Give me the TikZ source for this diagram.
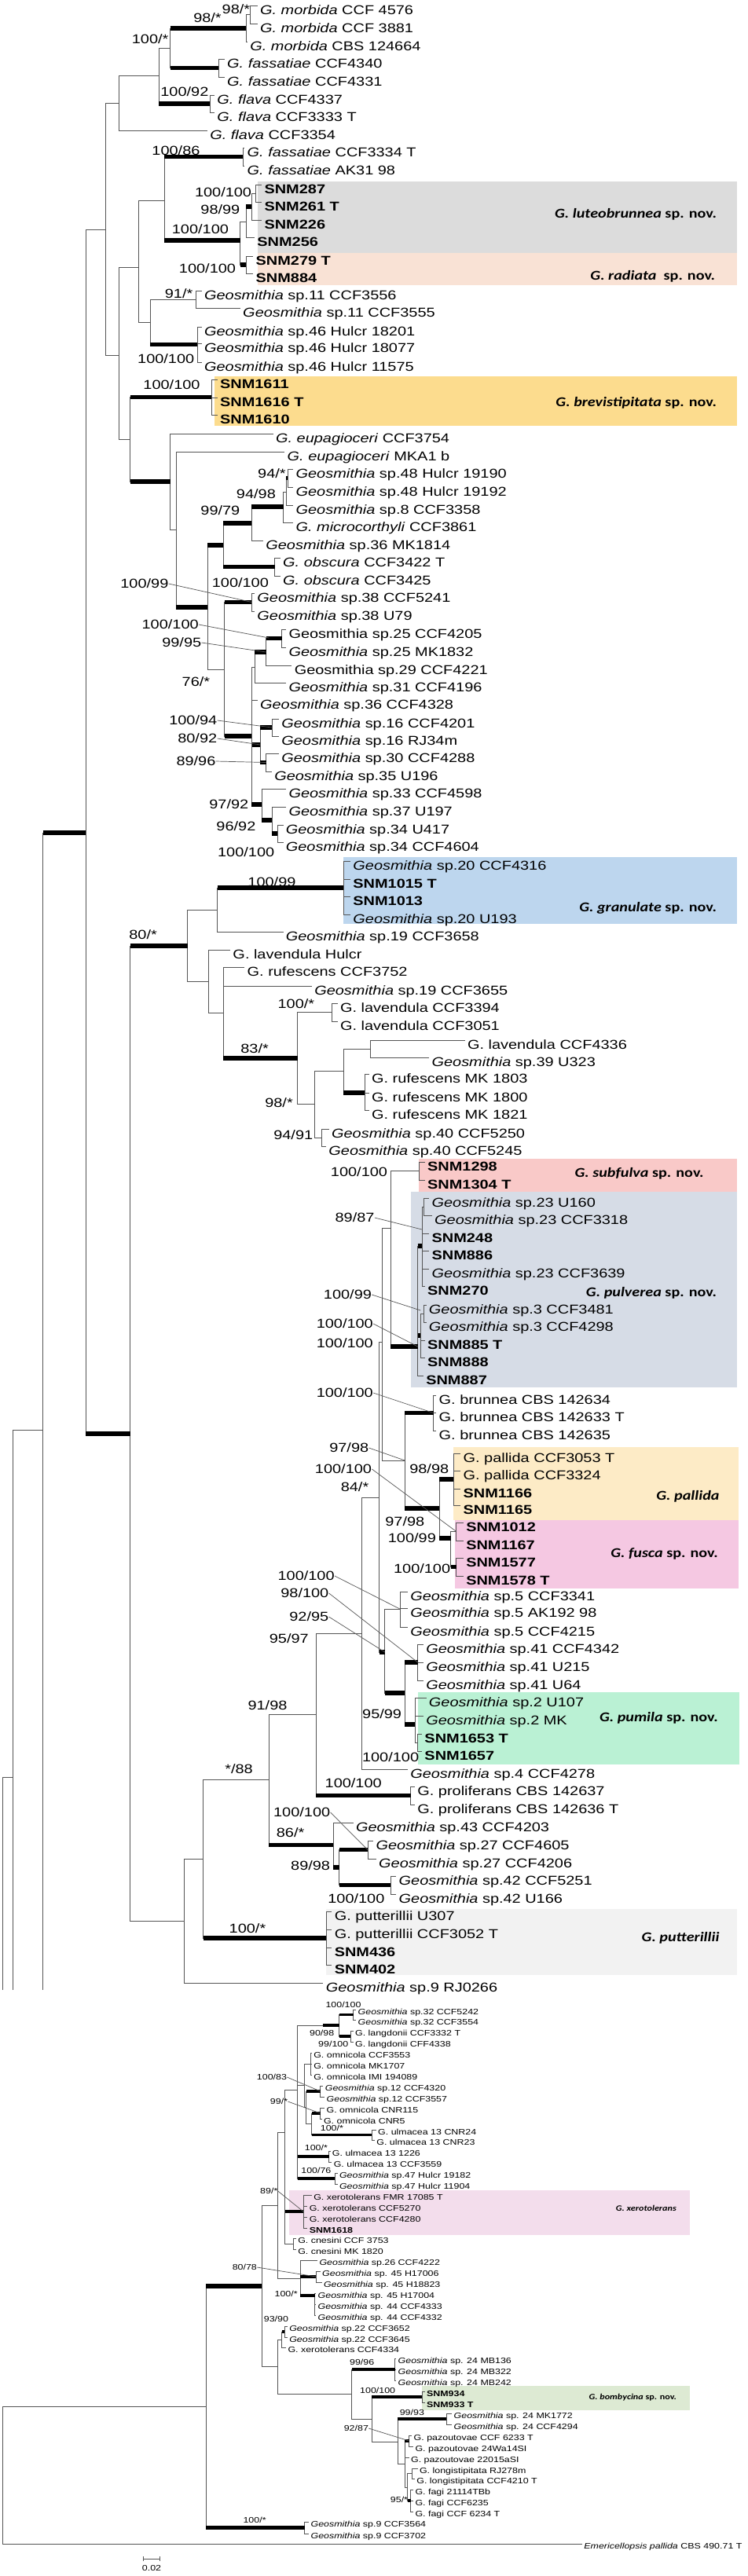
\documentclass[tikz,border=0pt]{standalone}
\usepackage{fontspec}
\setmainfont{Liberation Sans}[FakeStretch=1.22]
\newfontfamily\cladefont{Carlito}[FakeStretch=1.17]
\usetikzlibrary{calc}

\definecolor{luteo}{HTML}{DCDCDC}
\definecolor{radiat}{HTML}{F9E2D5}
\definecolor{brevi}{HTML}{FCDC8E}
\definecolor{granul}{HTML}{BDD6EE}
\definecolor{subful}{HTML}{F9C9C8}
\definecolor{pulver}{HTML}{D6DCE6}
\definecolor{pallid}{HTML}{FDEBC6}
\definecolor{fusc}{HTML}{F5C8E2}
\definecolor{pumil}{HTML}{BAF1D4}
\definecolor{putter}{HTML}{F2F2F2}
\definecolor{xerot}{HTML}{F3DDEC}
\definecolor{bomby}{HTML}{DDEAD3}
\definecolor{branch}{HTML}{555555}

\tikzset{
  br/.style={draw=branch, line width=0.5pt},
  bar/.style={line width=0.11cm, line cap=butt},
  bars/.style={line width=0.075cm, line cap=butt},
  tx/.style={anchor=base west, inner sep=0pt, xshift=0.06cm, yshift=-0.225cm, font=\fontsize{9.3}{10}\selectfont},
  txs/.style={anchor=base west, inner sep=0pt, xshift=0.04cm, yshift=-0.135cm, font=\fontsize{5.8}{6.5}\selectfont},
  bs/.style={inner sep=0pt, font=\fontsize{9.3}{10}\selectfont},
  bss/.style={inner sep=0pt, font=\fontsize{5.8}{6.5}\selectfont},
  ld/.style={draw=branch, line width=0.4pt},
  clade/.style={anchor=east, inner sep=0pt, font=\cladefont\fontsize{9.8}{11}\selectfont\bfseries},
  cladesm/.style={anchor=east, inner sep=0pt, font=\cladefont\fontsize{5.9}{7}\selectfont\bfseries},
}

\newcommand\geo{\textit{Geosmithia}}
\newcommand\lf[4]{\coordinate (#1) at (#2,#3); \node[tx] (#1t) at (#1) {#4};}
\newcommand\lfs[4]{\coordinate (#1) at (#2,#3); \node[txs] (#1t) at (#1) {#4};}
\newcommand\br[2]{\draw[br] (#1) |- (#2);}
\newcommand\tb[2]{\draw[br] (#1) |- (#2); \draw[bar] (#1 |- #2) -- (#2);}
\newcommand\tbs[2]{\draw[br] (#1) |- (#2); \draw[bars] (#1 |- #2) -- (#2);}

\begin{document}
\begin{tikzpicture}[x=0.03643cm, y=-0.02cm]
  \fill[white] (0,0) rectangle (522.6,3279);
  \useasboundingbox (0,0) rectangle (522.6,3279);

  % clade boxes
  \fill[luteo] (180,231) rectangle (515,322);
  \fill[radiat] (180,322) rectangle (515,363);
  \fill[brevi] (150,479) rectangle (515,542);
  \fill[granul] (240,1091) rectangle (515,1176);
  \fill[subful] (293,1475) rectangle (515,1517);
  \fill[pulver] (287,1517) rectangle (515,1766);
  \fill[pallid] (317,1842) rectangle (516,1935);
  \fill[fusc] (318,1935) rectangle (516,2022);
  \fill[pumil] (292,2154) rectangle (517,2246);
  \fill[putter] (228,2430) rectangle (515,2514);
  \fill[xerot] (202,2788) rectangle (482,2845);
  \fill[bomby] (295,3037) rectangle (482,3068);

  \node[clade] (cl1) at (501,273) {\textit{G. luteobrunnea} sp. nov.};
  \node[clade] (cl2) at (500,352) {\textit{G. radiata}\ \ sp. nov.};
  \node[clade] (cl3) at (501,513) {\textit{G. brevistipitata} sp. nov.};
  \node[clade] (cl4) at (501,1156) {\textit{G. granulate} sp. nov.};
  \node[clade] (cl5) at (492,1494) {\textit{G. subfulva} sp. nov.};
  \node[clade] (cl6) at (501,1646) {\textit{G. pulverea} sp. nov.};
  \node[clade] (cl7) at (503,1905) {\textit{G. pallida}};
  \node[clade] (cl8) at (502,1978) {\textit{G. fusca} sp. nov.};
  \node[clade] (cl9) at (502,2187) {\textit{G. pumila} sp. nov.};
  \node[clade] (cl10) at (503,2467) {\textit{G. putterillii}};
  \node[cladesm] (cl11) at (473,2811) {\textit{G. xerotolerans}};
  \node[cladesm] (cl12) at (473,3052) {\textit{G. bombycina} sp. nov.};

  % upper tree, tips
  \lf{mo1}{180}{7}{\textit{G. morbida} CCF 4576}
  \lf{mo2}{180}{30}{\textit{G. morbida} CCF 3881}
  \lf{mo3}{173}{53}{\textit{G. morbida} CBS 124664}
  \lf{fa1}{157}{75}{\textit{G. fassatiae} CCF4340}
  \lf{fa2}{157}{98}{\textit{G. fassatiae} CCF4331}
  \lf{fl1}{150}{121}{\textit{G. flava} CCF4337}
  \lf{fl2}{150}{143}{\textit{G. flava} CCF3333 T}
  \lf{fl3}{145}{166}{\textit{G. flava} CCF3354}
  \lf{fa3}{171}{188}{\textit{G. fassatiae} CCF3334 T}
  \lf{fa4}{171}{211}{\textit{G. fassatiae} AK31 98}
  \lf{s287}{183}{235}{\textbf{SNM287}}
  \lf{s261}{183}{257}{\textbf{SNM261 T}}
  \lf{s226}{183}{280}{\textbf{SNM226}}
  \lf{s256}{178}{302}{\textbf{SNM256}}
  \lf{s279}{177}{326}{\textbf{SNM279 T}}
  \lf{s884}{177}{348}{\textbf{SNM884}}
  \lf{g11a}{141}{370}{\geo\ sp.11 CCF3556}
  \lf{g11b}{168}{392}{\geo\ sp.11 CCF3555}
  \lf{g46a}{141}{416}{\geo\ sp.46 Hulcr 18201}
  \lf{g46b}{141}{437}{\geo\ sp.46 Hulcr 18077}
  \lf{g46c}{141}{461}{\geo\ sp.46 Hulcr 11575}
  \lf{s1611}{152}{483}{\textbf{SNM1611}}
  \lf{s1616}{152}{506}{\textbf{SNM1616 T}}
  \lf{s1610}{152}{528}{\textbf{SNM1610}}
  \lf{eu1}{191}{552}{\textit{G. eupagioceri} CCF3754}
  \lf{eu2}{199}{575}{\textit{G. eupagioceri} MKA1 b}
  \lf{g48a}{205}{597}{\geo\ sp.48 Hulcr 19190}
  \lf{g48b}{205}{620}{\geo\ sp.48 Hulcr 19192}
  \lf{g8}{205}{643}{\geo\ sp.8 CCF3358}
  \lf{mic}{205}{665}{\textit{G. microcorthyli} CCF3861}
  \lf{g36a}{184}{688}{\geo\ sp.36 MK1814}
  \lf{ob1}{196}{710}{\textit{G. obscura} CCF3422 T}
  \lf{ob2}{196}{733}{\textit{G. obscura} CCF3425}
  \lf{g38a}{178}{755}{\geo\ sp.38 CCF5241}
  \lf{g38b}{178}{778}{\geo\ sp.38 U79}
  \lf{g25a}{200}{801}{Geosmithia sp.25 CCF4205}
  \lf{g25b}{200}{824}{\geo\ sp.25 MK1832}
  \lf{g29}{204}{847}{Geosmithia sp.29 CCF4221}
  \lf{g31}{200}{869}{\geo\ sp.31 CCF4196}
  \lf{g36b}{180}{891}{\geo\ sp.36 CCF4328}
  \lf{g16a}{195}{915}{\geo\ sp.16 CCF4201}
  \lf{g16b}{195}{937}{\geo\ sp.16 RJ34m}
  \lf{g30}{195}{959}{\geo\ sp.30 CCF4288}
  \lf{g35}{190}{982}{\geo\ sp.35 U196}
  \lf{g33}{200}{1004}{\geo\ sp.33 CCF4598}
  \lf{g37}{200}{1027}{\geo\ sp.37 U197}
  \lf{g34a}{198}{1050}{\geo\ sp.34 U417}
  \lf{g34b}{198}{1072}{\geo\ sp.34 CCF4604}
  \lf{g20a}{245}{1096}{\geo\ sp.20 CCF4316}
  \lf{s1015}{245}{1119}{\textbf{SNM1015 T}}
  \lf{s1013}{245}{1141}{\textbf{SNM1013}}
  \lf{g20b}{245}{1164}{\geo\ sp.20 U193}
  \lf{g19a}{198}{1186}{\geo\ sp.19 CCF3658}
  \lf{lv1}{161}{1209}{G. lavendula Hulcr}
  \lf{rf1}{171}{1231}{G. rufescens CCF3752}
  \lf{g19b}{218}{1255}{\geo\ sp.19 CCF3655}
  \lf{lv2}{236}{1277}{G. lavendula CCF3394}
  \lf{lv3}{236}{1300}{G. lavendula CCF3051}
  \lf{lv4}{325}{1324}{G. lavendula CCF4336}
  \lf{g39}{300}{1346}{\geo\ sp.39 U323}
  \lf{rf2}{258}{1367}{G. rufescens MK 1803}
  \lf{rf3}{258}{1391}{G. rufescens MK 1800}
  \lf{rf4}{258}{1413}{G. rufescens MK 1821}
  \lf{g40a}{230}{1437}{\geo\ sp.40 CCF5250}
  \lf{g40b}{228}{1459}{\geo\ sp.40 CCF5245}
  \lf{s1298}{297}{1479}{\textbf{SNM1298}}
  \lf{s1304}{297}{1502}{\textbf{SNM1304 T}}
  \lf{g23a}{300}{1525}{\geo\ sp.23 U160}
  \lf{g23b}{302}{1547}{\geo\ sp.23 CCF3318}
  \lf{s248}{300}{1570}{\textbf{SNM248}}
  \lf{s886}{300}{1592}{\textbf{SNM886}}
  \lf{g23c}{300}{1615}{\geo\ sp.23 CCF3639}
  \lf{s270}{297}{1637}{\textbf{SNM270}}
  \lf{g3a}{298}{1661}{\geo\ sp.3 CCF3481}
  \lf{g3b}{298}{1683}{\geo\ sp.3 CCF4298}
  \lf{s885}{297}{1706}{\textbf{SNM885 T}}
  \lf{s888}{297}{1728}{\textbf{SNM888}}
  \lf{s887}{296}{1751}{\textbf{SNM887}}
  \lf{br1}{305}{1776}{G. brunnea CBS 142634}
  \lf{br2}{305}{1798}{G. brunnea CBS 142633 T}
  \lf{br3}{305}{1821}{G. brunnea CBS 142635}
  \lf{pa1}{322}{1850}{G. pallida CCF3053 T}
  \lf{pa2}{322}{1872}{G. pallida CCF3324}
  \lf{s1166}{322}{1895}{\textbf{SNM1166}}
  \lf{s1165}{322}{1916}{\textbf{SNM1165}}
  \lf{s1012}{324}{1938}{\textbf{SNM1012}}
  \lf{s1167}{324}{1961}{\textbf{SNM1167}}
  \lf{s1577}{324}{1983}{\textbf{SNM1577}}
  \lf{s1578}{324}{2006}{\textbf{SNM1578 T}}
  \lf{g5a}{285}{2026}{\geo\ sp.5 CCF3341}
  \lf{g5b}{285}{2047}{\geo\ sp.5 AK192 98}
  \lf{g5c}{285}{2071}{\geo\ sp.5 CCF4215}
  \lf{g41a}{296}{2093}{\geo\ sp.41 CCF4342}
  \lf{g41b}{296}{2116}{\geo\ sp.41 U215}
  \lf{g41c}{296}{2139}{\geo\ sp.41 U64}
  \lf{g2a}{298}{2161}{\geo\ sp.2 U107}
  \lf{g2b}{296}{2184}{\geo\ sp.2 MK}
  \lf{s1653}{295}{2207}{\textbf{SNM1653 T}}
  \lf{s1657}{295}{2229}{\textbf{SNM1657}}
  \lf{g4}{285}{2252}{\geo\ sp.4 CCF4278}
  \lf{pr1}{290}{2274}{G. proliferans CBS 142637}
  \lf{pr2}{290}{2297}{G. proliferans CBS 142636 T}
  \lf{g43}{247}{2320}{\geo\ sp.43 CCF4203}
  \lf{g27a}{261}{2343}{\geo\ sp.27 CCF4605}
  \lf{g27b}{263}{2366}{\geo\ sp.27 CCF4206}
  \lf{g42a}{277}{2388}{\geo\ sp.42 CCF5251}
  \lf{g42b}{277}{2411}{\geo\ sp.42 U166}
  \lf{pu1}{232}{2433}{G. putterillii U307}
  \lf{pu2}{232}{2456}{G. putterillii CCF3052 T}
  \lf{s436}{232}{2479}{\textbf{SNM436}}
  \lf{s402}{232}{2501}{\textbf{SNM402}}
  \lf{g9a}{226}{2524}{\geo\ sp.9 RJ0266}

  % upper tree, inner nodes
  \coordinate (m175) at (175,18.5);
  \coordinate (m172) at (172,36);
  \coordinate (f153) at (153,86.5);
  \coordinate (n119) at (119,61);
  \coordinate (fl147) at (147,132);
  \coordinate (n111) at (111,96.5);
  \coordinate (n83a) at (83,131);
  \coordinate (f170) at (170,199.5);
  \coordinate (lutB) at (179,246);
  \coordinate (lutA) at (176,263);
  \coordinate (lut) at (172,282.5);
  \coordinate (rad) at (172,337);
  \coordinate (n168) at (168,306);
  \coordinate (n115) at (115,255);
  \coordinate (sp11) at (137,381);
  \coordinate (sp46) at (138,438.5);
  \coordinate (n105) at (105,410);
  \coordinate (n97) at (97,340);
  \coordinate (brev) at (148,505.5);
  \coordinate (sp48) at (201,608.5);
  \coordinate (n200) at (200,626);
  \coordinate (n198) at (198,645);
  \coordinate (n176b) at (176,666);
  \coordinate (obs) at (192,721.5);
  \coordinate (n156) at (156,694);
  \coordinate (sp38) at (176,766.5);
  \coordinate (sp25) at (197,812.5);
  \coordinate (nR) at (186,830);
  \coordinate (nS) at (178,849.5);
  \coordinate (sp16) at (190,926);
  \coordinate (p30) at (186,970.5);
  \coordinate (n184b) at (182,948);
  \coordinate (sp34) at (194,1061);
  \coordinate (n190) at (190,1044);
  \coordinate (n184) at (183,1024);
  \coordinate (n176c) at (176,937);
  \coordinate (n157) at (157,852);
  \coordinate (n145) at (145,773);
  \coordinate (n123) at (123,674);
  \coordinate (n119b) at (119,613);
  \coordinate (n91) at (91,559);
  \coordinate (n83b) at (83,452);
  \coordinate (n74) at (74,292);
  \coordinate (gran) at (240,1130);
  \coordinate (n152) at (152,1158);
  \coordinate (lav2) at (232,1288.5);
  \coordinate (n259) at (259,1335);
  \coordinate (ruf) at (255,1391);
  \coordinate (n240) at (240,1363);
  \coordinate (sp40) at (225,1448);
  \coordinate (n220) at (220,1405);
  \coordinate (n208) at (208,1347);
  \coordinate (n156b) at (156,1289);
  \coordinate (n146) at (146,1249);
  \coordinate (n131) at (131,1204);
  \coordinate (subf) at (293,1490.5);
  \coordinate (pA) at (296,1536);
  \coordinate (pB) at (295,1586);
  \coordinate (sp3) at (296,1672);
  \coordinate (pC) at (294,1700);
  \coordinate (pul) at (292,1714);
  \coordinate (nV) at (273,1563);
  \coordinate (brun) at (303,1798.5);
  \coordinate (pal) at (317,1883);
  \coordinate (F1) at (319,1949.5);
  \coordinate (F2) at (319,1994.5);
  \coordinate (fus) at (315,1958);
  \coordinate (n307) at (307,1920);
  \coordinate (nW) at (283,1859);
  \coordinate (nU) at (267,1708);
  \coordinate (sp5) at (280,2048.5);
  \coordinate (sp41) at (292,2116);
  \coordinate (pum2) at (292,2218);
  \coordinate (pum) at (290,2195);
  \coordinate (nX) at (283,2155);
  \coordinate (n269) at (269,2103);
  \coordinate (n265) at (265,1906);
  \coordinate (n253) at (253,2079);
  \coordinate (prol) at (287,2285.5);
  \coordinate (n221) at (221,2182);
  \coordinate (sp27) at (257,2354.5);
  \coordinate (sp42) at (273,2399.5);
  \coordinate (n237) at (237,2377);
  \coordinate (n233) at (233,2348.5);
  \coordinate (n188) at (188,2265);
  \coordinate (put) at (228,2467);
  \coordinate (n142) at (142,2366);
  \coordinate (n129) at (129,2445);
  \coordinate (n91b) at (91,1825);
  \coordinate (n60) at (60,1060);
  \coordinate (n30) at (30,1820);
  \coordinate (n9) at (9,2262);
  \coordinate (n2) at (2,2262);
  \coordinate (c2) at (2,2533);
  \coordinate (c9) at (9,2533);
  \coordinate (c30) at (30,2533);

  % upper tree, branches
  \br{m175}{mo1} \br{m175}{mo2} \br{m172}{m175} \br{m172}{mo3}
  \tb{n119}{m172} \tb{n119}{f153} \br{f153}{fa1} \br{f153}{fa2}
  \tb{n111}{fl147} \br{n111}{n119} \br{fl147}{fl1} \br{fl147}{fl2}
  \br{n83a}{n111} \br{n83a}{fl3}
  \tb{n115}{f170} \br{f170}{fa3} \br{f170}{fa4}
  \br{lutB}{s287} \br{lutB}{s261} \br{lutA}{lutB} \br{lutA}{s226}
  \tb{lut}{lutA} \br{lut}{s256} \br{rad}{s279} \br{rad}{s884}
  \br{n168}{lut} \tb{n168}{rad} \tb{n115}{n168}
  \br{sp11}{g11a} \br{sp11}{g11b}
  \br{sp46}{g46a} \br{sp46}{g46b} \br{sp46}{g46c}
  \br{n105}{sp11} \tb{n105}{sp46}
  \br{n97}{n115} \br{n97}{n105}
  \br{brev}{s1611} \br{brev}{s1616} \br{brev}{s1610}
  \br{sp48}{g48a} \br{sp48}{g48b} \tb{n200}{sp48} \br{n200}{g8}
  \br{n198}{n200} \br{n198}{mic} \tb{n176b}{n198} \br{n176b}{g36a}
  \br{obs}{ob1} \br{obs}{ob2} \tb{n156}{n176b} \tb{n156}{obs}
  \br{sp38}{g38a} \br{sp38}{g38b}
  \br{sp25}{g25a} \br{sp25}{g25b} \tb{nR}{sp25} \br{nR}{g29}
  \tb{nS}{nR} \br{nS}{g31}
  \br{sp16}{g16a} \br{sp16}{g16b} \br{p30}{g30} \br{p30}{g35}
  \tb{n184b}{sp16} \tb{n184b}{p30}
  \br{sp34}{g34a} \br{sp34}{g34b} \tb{n190}{sp34} \br{n190}{g37}
  \tb{n184}{n190} \br{n184}{g33}
  \br{n176c}{nS} \br{n176c}{g36b} \tb{n176c}{n184b} \tb{n176c}{n184}
  \tb{n157}{sp38} \tb{n157}{n176c}
  \tb{n145}{n156} \br{n145}{n157}
  \br{n123}{eu2} \tb{n123}{n145}
  \br{n119b}{eu1} \br{n119b}{n123}
  \tb{n91}{brev} \tb{n91}{n119b}
  \br{n83b}{n97} \br{n83b}{n91}
  \br{n74}{n83a} \br{n74}{n83b}
  \br{gran}{g20a} \br{gran}{s1015} \br{gran}{s1013} \br{gran}{g20b}
  \tb{n152}{gran} \br{n152}{g19a}
  \br{lav2}{lv2} \br{lav2}{lv3} \br{n259}{lv4} \br{n259}{g39}
  \br{ruf}{rf2} \br{ruf}{rf3} \br{ruf}{rf4}
  \br{n240}{n259} \tb{n240}{ruf}
  \br{sp40}{g40a} \br{sp40}{g40b} \br{n220}{n240} \br{n220}{sp40}
  \br{n208}{lav2} \br{n208}{n220}
  \br{n156b}{rf1} \br{n156b}{g19b} \tb{n156b}{n208}
  \br{n146}{lv1} \br{n146}{n156b}
  \br{n131}{n152} \br{n131}{n146}
  \br{subf}{s1298} \br{subf}{s1304}
  \br{pA}{g23a} \br{pA}{g23b}
  \br{pB}{pA} \br{pB}{s248} \br{pB}{s886} \br{pB}{g23c} \br{pB}{s270}
  \br{sp3}{g3a} \br{sp3}{g3b}
  \br{pC}{sp3} \br{pC}{s885} \br{pC}{s888}
  \tb{pul}{pB} \tb{pul}{pC} \br{pul}{s887}
  \br{nV}{subf} \tb{nV}{pul}
  \br{brun}{br1} \br{brun}{br2} \br{brun}{br3}
  \br{pal}{pa1} \br{pal}{pa2} \br{pal}{s1166} \br{pal}{s1165}
  \br{F1}{s1012} \br{F1}{s1167} \br{F2}{s1577} \br{F2}{s1578}
  \br{fus}{F1} \tb{fus}{F2}
  \tb{n307}{pal} \tb{n307}{fus}
  \tb{nW}{brun} \tb{nW}{n307}
  \br{nU}{nV} \br{nU}{nW}
  \br{sp5}{g5a} \br{sp5}{g5b} \br{sp5}{g5c}
  \br{sp41}{g41a} \br{sp41}{g41b} \br{sp41}{g41c}
  \br{pum2}{s1653} \br{pum2}{s1657}
  \br{pum}{g2a} \br{pum}{g2b} \br{pum}{pum2}
  \tb{nX}{sp41} \tb{nX}{pum}
  \br{n269}{sp5} \tb{n269}{nX}
  \br{n265}{nU} \tb{n265}{n269}
  \br{n253}{n265} \br{n253}{g4}
  \br{prol}{pr1} \br{prol}{pr2}
  \br{n221}{n253} \tb{n221}{prol}
  \br{sp27}{g27a} \br{sp27}{g27b} \br{sp42}{g42a} \br{sp42}{g42b}
  \tb{n237}{sp27} \tb{n237}{sp42}
  \br{n233}{g43} \tb{n233}{n237}
  \br{n188}{n221} \tb{n188}{n233}
  \br{put}{pu1} \br{put}{pu2} \br{put}{s436} \br{put}{s402}
  \br{n142}{n188} \tb{n142}{put}
  \br{n129}{n142} \br{n129}{g9a}
  \tb{n91b}{n131} \br{n91b}{n129}
  \br{n60}{n74} \tb{n60}{n91b}
  \tb{n30}{n60}
  \br{n9}{n30}
  \br{n2}{n9}
  \draw[br] (n2) -- (c2);
  \draw[br] (n9) -- (c9);
  \draw[br] (n30) -- (c30);

  % upper support values
  \node[bs] (b1) at (165,12) {98/*};
  \node[bs] (b2) at (145,23) {98/*};
  \node[bs] (b3) at (105,50) {100/*};
  \node[bs] (b4) at (129,117) {100/92};
  \node[bs] (b5) at (123,192) {100/86};
  \node[bs] (b6) at (156,245) {100/100};
  \node[bs] (b7) at (154,267) {98/99};
  \node[bs] (b8) at (140,292) {100/100};
  \node[bs] (b9) at (145,342) {100/100};
  \node[bs] (b10) at (125,374) {91/*};
  \node[bs] (b11) at (116,457) {100/100};
  \node[bs] (b12) at (120,490) {100/100};
  \node[bs] (b13) at (190,603) {94/*};
  \node[bs] (b14) at (179,629) {94/98};
  \node[bs] (b15) at (154,650) {99/79};
  \node[bs] (b16) at (168,742) {100/100};
  \node[bs] (b17) at (101,743) {100/99};
  \node[bs] (b18) at (119,795) {100/100};
  \node[bs] (b19) at (127,818) {99/95};
  \node[bs] (b20) at (137,868) {76/*};
  \node[bs] (b21) at (135,917) {100/94};
  \node[bs] (b22) at (138,940) {80/92};
  \node[bs] (b23) at (137,969) {89/96};
  \node[bs] (b24) at (160,1024) {97/92};
  \node[bs] (b25) at (165,1052) {96/92};
  \node[bs] (b26) at (172,1085) {100/100};
  \node[bs] (b27) at (190,1123) {100/99};
  \node[bs] (b28) at (100,1190) {80/*};
  \node[bs] (b29) at (207,1278) {100/*};
  \node[bs] (b30) at (178,1335) {83/*};
  \node[bs] (b31) at (195,1404) {98/*};
  \node[bs] (b32) at (205,1445) {94/91};
  \node[bs] (b33) at (251,1492) {100/100};
  \node[bs] (b34) at (248,1550) {89/87};
  \node[bs] (b35) at (243,1648) {100/99};
  \node[bs] (b36) at (241,1685) {100/100};
  \node[bs] (b37) at (241,1710) {100/100};
  \node[bs] (b38) at (241,1773) {100/100};
  \node[bs] (b39) at (244,1843) {97/98};
  \node[bs] (b40) at (240,1870) {100/100};
  \node[bs] (b41) at (300,1870) {98/98};
  \node[bs] (b42) at (248,1893) {84/*};
  \node[bs] (b43) at (283,1937) {97/98};
  \node[bs] (b44) at (288,1958) {100/99};
  \node[bs] (b45) at (295,1997) {100/100};
  \node[bs] (b46) at (214,2006) {100/100};
  \node[bs] (b47) at (213,2028) {98/100};
  \node[bs] (b48) at (216,2058) {92/95};
  \node[bs] (b49) at (202,2086) {95/97};
  \node[bs] (b50) at (187,2171) {91/98};
  \node[bs] (b51) at (267,2182) {95/99};
  \node[bs] (b52) at (273,2237) {100/100};
  \node[bs] (b53) at (167,2252) {*/88};
  \node[bs] (b54) at (247,2270) {100/100};
  \node[bs] (b55) at (211,2307) {100/100};
  \node[bs] (b56) at (203,2333) {86/*};
  \node[bs] (b57) at (217,2375) {89/98};
  \node[bs] (b58) at (249,2417) {100/100};
  \node[bs] (b59) at (173,2455) {100/*};
  \draw[ld] (b17.east) -- (sp38);
  \draw[ld] (b18.east) -- (188,812);
  \draw[ld] (b19.east) -- (nR);
  \draw[ld] (b21.east) -- (sp16);
  \draw[ld] (b22.east) -- (n184b);
  \draw[ld] (b23.east) -- (p30);
  \draw[ld] (b34.east) -- (295,1565);
  \draw[ld] (b35.east) -- (294,1668);
  \draw[ld] (b36.east) -- (pul);
  \draw[ld] (b38.east) -- (brun);
  \draw[ld] (b39.east) -- (nW);
  \draw[ld] (b40.east) -- (F1);
  \draw[ld] (b46.east) -- (sp5);
  \draw[ld] (b47.east) -- (sp41);
  \draw[ld] (b48.east) -- (n269);
  \draw[ld] (b55.east) -- (sp27);

  % lower tree, tips
  \lfs{h32a}{249}{2558}{\geo\ sp.32 CCF5242}
  \lfs{h32b}{249}{2571}{\geo\ sp.32 CCF3554}
  \lfs{la1}{247}{2585}{G. langdonii CCF3332 T}
  \lfs{la2}{247}{2599}{G. langdonii CFF4338}
  \lfs{om1}{218}{2613}{G. omnicola CCF3553}
  \lfs{om2}{218}{2627}{G. omnicola MK1707}
  \lfs{om3}{218}{2641}{G. omnicola IMI 194089}
  \lfs{h12a}{226}{2655}{\geo\ sp.12 CCF4320}
  \lfs{h12b}{227}{2669}{\geo\ sp.12 CCF3557}
  \lfs{om4}{227}{2683}{G. omnicola CNR115}
  \lfs{om5}{225}{2697}{G. omnicola CNR5}
  \lfs{ul1}{263}{2711}{G. ulmacea 13 CNR24}
  \lfs{ul2}{262}{2724}{G. ulmacea 13 CNR23}
  \lfs{ul3}{231}{2738}{G. ulmacea 13 1226}
  \lfs{ul4}{232}{2752}{G. ulmacea 13 CCF3559}
  \lfs{h47a}{236}{2766}{\geo\ sp.47 Hulcr 19182}
  \lfs{h47b}{236}{2780}{\geo\ sp.47 Hulcr 11904}
  \lfs{xe1}{218}{2794}{G. xerotolerans FMR 17085 T}
  \lfs{xe2}{215}{2808}{G. xerotolerans CCF5270}
  \lfs{xe3}{215}{2822}{G. xerotolerans CCF4280}
  \lfs{s1618}{215}{2836}{\textbf{SNM1618}}
  \lfs{cn1}{207}{2849}{G. cnesini CCF 3753}
  \lfs{cn2}{207}{2863}{G. cnesini MK 1820}
  \lfs{h26}{222}{2877}{\geo\ sp.26 CCF4222}
  \lfs{h45a}{224}{2891}{\geo\ sp. 45 H17006}
  \lfs{h45b}{225}{2905}{\geo\ sp. 45 H18823}
  \lfs{h45c}{221}{2919}{\geo\ sp. 45 H17004}
  \lfs{h44a}{221}{2933}{\geo\ sp. 44 CCF4333}
  \lfs{h44b}{221}{2947}{\geo\ sp. 44 CCF4332}
  \lfs{h22a}{201}{2961}{\geo\ sp.22 CCF3652}
  \lfs{h22b}{201}{2975}{\geo\ sp.22 CCF3645}
  \lfs{xe4}{200}{2988}{G. xerotolerans CCF4334}
  \lfs{h24a}{277}{3002}{\geo\ sp. 24 MB136}
  \lfs{h24b}{277}{3016}{\geo\ sp. 24 MB322}
  \lfs{h24c}{277}{3030}{\geo\ sp. 24 MB242}
  \lfs{s934}{297}{3044}{\textbf{SNM934}}
  \lfs{s933}{297}{3058}{\textbf{SNM933 T}}
  \lfs{h24d}{316}{3072}{\geo\ sp. 24 MK1772}
  \lfs{h24e}{316}{3086}{\geo\ sp. 24 CCF4294}
  \lfs{pz1}{288}{3100}{G. pazoutovae CCF 6233 T}
  \lfs{pz2}{289}{3114}{G. pazoutovae 24Wa14SI}
  \lfs{pz3}{286}{3128}{G. pazoutovae 22015aSI}
  \lfs{lo1}{292}{3142}{G. longistipitata RJ278m}
  \lfs{lo2}{290}{3155}{G. longistipitata CCF4210 T}
  \lfs{fg1}{289}{3169}{G. fagi 21114TBb}
  \lfs{fg2}{289}{3183}{G. fagi CCF6235}
  \lfs{fg3}{289}{3197}{G. fagi CCF 6234 T}
  \lfs{h9a}{216}{3210}{\geo\ sp.9 CCF3564}
  \lfs{h9b}{216}{3225}{\geo\ sp.9 CCF3702}
  \lfs{em}{407}{3238}{\textit{Emericellopsis pallida} CBS 490.71 T}

  % lower tree, inner nodes
  \coordinate (sp32) at (247,2564.5);
  \coordinate (lang) at (245,2592);
  \coordinate (n237L) at (237,2578);
  \coordinate (omn3) at (217,2627);
  \coordinate (sp12) at (224,2662);
  \coordinate (cnr) at (224,2690);
  \coordinate (ulmC) at (260,2717.5);
  \coordinate (n218) at (218,2703);
  \coordinate (n214) at (214,2682);
  \coordinate (n213) at (213,2654);
  \coordinate (ulm2) at (230,2745);
  \coordinate (sp47) at (234,2773);
  \coordinate (xero) at (212,2815);
  \coordinate (nB) at (208,2660);
  \coordinate (cnes) at (205,2856);
  \coordinate (nA) at (199,2714);
  \coordinate (sp45a) at (221,2898);
  \coordinate (n220L) at (220,2922);
  \coordinate (n210) at (210,2900);
  \coordinate (n194) at (194,2807);
  \coordinate (sp22) at (199,2968);
  \coordinate (n197) at (197,2978);
  \coordinate (sp24MB) at (276,3016);
  \coordinate (bomb) at (295,3051);
  \coordinate (mk) at (312,3079);
  \coordinate (paz) at (286,3107);
  \coordinate (longi) at (288,3148.5);
  \coordinate (fagi) at (287,3183);
  \coordinate (nLF) at (285,3166);
  \coordinate (n283) at (283,3136);
  \coordinate (n278) at (278,3108);
  \coordinate (n260) at (260,3079);
  \coordinate (n246) at (246,3047);
  \coordinate (n194b) at (194,3012);
  \coordinate (n183) at (183,2910);
  \coordinate (sp9L) at (213,3217.5);
  \coordinate (n144) at (144,3063);
  \coordinate (root) at (2,3150);

  % lower tree, branches
  \br{sp32}{h32a} \br{sp32}{h32b} \br{lang}{la1} \br{lang}{la2}
  \tbs{n237L}{sp32} \tbs{n237L}{lang}
  \br{omn3}{om1} \br{omn3}{om2} \br{omn3}{om3}
  \br{sp12}{h12a} \br{sp12}{h12b} \br{cnr}{om4} \br{cnr}{om5}
  \br{ulmC}{ul1} \br{ulmC}{ul2}
  \tbs{n218}{cnr} \tbs{n218}{ulmC}
  \tbs{n214}{sp12} \br{n214}{n218}
  \br{n213}{omn3} \br{n213}{n214}
  \br{ulm2}{ul3} \br{ulm2}{ul4} \br{sp47}{h47a} \br{sp47}{h47b}
  \br{xero}{xe1} \br{xero}{xe2} \br{xero}{xe3} \br{xero}{s1618}
  \draw[br] (nB) |- (n237L);
  \draw[bars] (n237L) -- ++(-11,0);
  \br{nB}{n213} \tbs{nB}{ulm2} \tbs{nB}{sp47}
  \br{cnes}{cn1} \br{cnes}{cn2}
  \br{nA}{nB} \tbs{nA}{xero} \br{nA}{cnes}
  \br{sp45a}{h45a} \br{sp45a}{h45b}
  \br{n220L}{h45c} \br{n220L}{h44a} \br{n220L}{h44b}
  \br{n210}{h26} \tbs{n210}{sp45a} \tbs{n210}{n220L}
  \br{n194}{nA} \br{n194}{n210}
  \br{sp22}{h22a} \br{sp22}{h22b} \tbs{n197}{sp22} \br{n197}{xe4}
  \br{sp24MB}{h24a} \br{sp24MB}{h24b} \br{sp24MB}{h24c}
  \br{bomb}{s934} \br{bomb}{s933}
  \br{mk}{h24d} \br{mk}{h24e}
  \br{paz}{pz1} \br{paz}{pz2}
  \br{longi}{lo1} \br{longi}{lo2}
  \br{fagi}{fg1} \br{fagi}{fg2} \br{fagi}{fg3}
  \br{nLF}{longi} \tbs{nLF}{fagi}
  \tbs{n283}{paz} \br{n283}{pz3} \br{n283}{nLF}
  \tbs{n278}{mk} \br{n278}{n283}
  \tbs{n260}{bomb} \br{n260}{n278}
  \tbs{n246}{sp24MB} \br{n246}{n260}
  \br{n194b}{n197} \br{n194b}{n246}
  \br{n183}{n194} \br{n183}{n194b}
  \br{sp9L}{h9a} \br{sp9L}{h9b}
  \tb{n144}{n183} \tb{n144}{sp9L}
  \br{root}{n144} \br{root}{em}

  % lower support values
  \node[bss] (c1) at (240,2552) {100/100};
  \node[bss] (c2l) at (225,2588) {90/98};
  \node[bss] (c3) at (233,2602) {99/100};
  \node[bss] (c4) at (190,2644) {100/83};
  \node[bss] (c5) at (195,2675) {99/*};
  \node[bss] (c6) at (232,2709) {100/*};
  \node[bss] (c7) at (221,2734) {100/*};
  \node[bss] (c8) at (221,2763) {100/76};
  \node[bss] (c9l) at (188,2789) {89/*};
  \node[bss] (c10) at (171,2886) {80/78};
  \node[bss] (c11) at (200,2920) {100/*};
  \node[bss] (c12) at (193,2952) {93/90};
  \node[bss] (c13) at (253,3007) {99/96};
  \node[bss] (c14) at (264,3043) {100/100};
  \node[bss] (c15) at (288,3071) {99/93};
  \node[bss] (c16) at (249,3091) {92/87};
  \node[bss] (c17) at (279,3182) {95/*};
  \node[bss] (c18) at (178,3208) {100/*};
  \draw[ld] (c4.east) -- (sp12);
  \draw[ld] (c5.east) -- (cnr);
  \draw[ld] (c9l.east) -- (xero);
  \draw[ld] (c10.east) -- (sp45a);
  \draw[ld] (c16.east) -- (paz);

  % scale bar
  \coordinate (sb1) at (100,3257);
  \coordinate (sb2) at (112,3257);
  \draw[br] (sb1) -- (sb2);
  \draw[br] (sb1) ++(0,-3) -- ++(0,6);
  \draw[br] (sb2) ++(0,-3) -- ++(0,6);
  \node[bss] (sbl) at (106,3269) {0.02};
\end{tikzpicture}
\end{document}
